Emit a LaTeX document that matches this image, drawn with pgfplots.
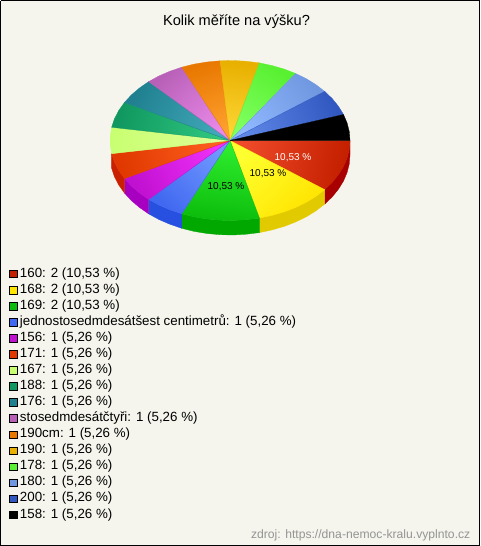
\documentclass[border=0pt]{standalone}
\usepackage{fontspec}
\setmainfont{Liberation Sans}
\usepackage{pgfplots}
\pgfplotsset{compat=1.18}
\definecolor{bgc}{HTML}{F5F5ED}
\definecolor{rA}{HTML}{C42000}\definecolor{rB}{HTML}{F04C2C}\definecolor{rW}{HTML}{A80000}
\definecolor{yA}{HTML}{FFE400}\definecolor{yB}{HTML}{FFFF30}\definecolor{yW}{HTML}{E2CA00}
\definecolor{gA}{HTML}{0CBC0C}\definecolor{gB}{HTML}{30F030}\definecolor{gW}{HTML}{00A800}
\definecolor{bA}{HTML}{4068F0}\definecolor{bB}{HTML}{7098FF}\definecolor{bW}{HTML}{2850E0}
\definecolor{mA}{HTML}{C010D0}\definecolor{mB}{HTML}{F030F8}\definecolor{mW}{HTML}{A800C0}
\definecolor{oA}{HTML}{E03800}\definecolor{oB}{HTML}{FF6020}\definecolor{oW}{HTML}{C82000}
\definecolor{lA}{HTML}{C8FF70}\definecolor{lB}{HTML}{E0FF98}
\definecolor{eA}{HTML}{109860}\definecolor{eB}{HTML}{30C880}
\definecolor{tA}{HTML}{208090}\definecolor{tB}{HTML}{40A8B8}
\definecolor{pA}{HTML}{B860B8}\definecolor{pB}{HTML}{E888E8}
\definecolor{nA}{HTML}{E87800}\definecolor{nB}{HTML}{FFA030}
\definecolor{dA}{HTML}{E8B000}\definecolor{dB}{HTML}{FFD838}
\definecolor{kA}{HTML}{58F030}\definecolor{kB}{HTML}{80FF60}
\definecolor{sA}{HTML}{7098E0}\definecolor{sB}{HTML}{90B8FF}
\definecolor{uA}{HTML}{3058C0}\definecolor{uB}{HTML}{6088E8}
\pgfplotsset{
  sw/.style={legend image code/.code={\pgfpathrectangle{\pgfpoint{0pt}{-3.8pt}}{\pgfpoint{11pt}{7.6pt}}\pgfusepath{use as bounding box}\draw[shade=false,black,line width=.8pt,fill=#1] (0.4pt,-3.8pt) rectangle (8pt,3.8pt);}},
  wedge/.style n args={3}{draw=#1,line width=.3pt,top color=#1,bottom color=#2,shading angle=#3,sw=#1},
  wall/.style={fill=#1,draw=#1,line width=.3pt,forget plot},
}
\begin{document}
\begin{tikzpicture}
\begin{axis}[
  scale only axis,width=480pt,height=546pt,
  xmin=0,xmax=480,ymin=0,ymax=546,y dir=reverse,
  hide axis,clip=false,
  legend cell align=left,
  legend style={at={(axis cs:9,266)},anchor=north west,draw=none,fill=none,
    inner sep=0pt,outer sep=0pt,row sep=0pt,
    nodes={inner sep=0pt,text height=11pt,text depth=5.07pt,font=\fontsize{13.33}{15}\selectfont},
    /tikz/every even column/.append style={column sep=0pt}},
]
% page
\addplot[fill=bgc,draw=black,line width=1pt,forget plot] coordinates {(0.5,0.5)(479.5,0.5)(479.5,545.5)(0.5,545.5)(0.5,0.5)};
% walls
\addplot[wall=rW] coordinates {(350.0,140.5)(349.3,149.3)(347.1,158.0)(343.5,166.5)(338.5,174.6)(332.2,182.4)(324.7,189.6)(324.7,204.1)(332.2,196.9)(338.5,189.1)(343.5,181.0)(347.1,172.5)(349.3,163.8)(350.0,155.0)(350.0,140.5)};
\addplot[wall=yW] coordinates {(324.7,189.6)(316.0,196.3)(306.3,202.3)(295.6,207.5)(284.2,211.9)(272.1,215.4)(259.5,218.1)(259.5,232.6)(272.1,229.9)(284.2,226.4)(295.6,222.0)(306.3,216.8)(316.0,210.8)(324.7,204.1)(324.7,189.6)};
\addplot[wall=gW] coordinates {(259.5,218.1)(246.5,219.7)(233.3,220.5)(220.1,220.2)(207.0,219.0)(194.2,216.9)(181.8,213.8)(181.8,228.3)(194.2,231.4)(207.0,233.5)(220.1,234.7)(233.3,235.0)(246.5,234.2)(259.5,232.6)(259.5,218.1)};
\addplot[wall=bW] coordinates {(181.8,213.8)(170.0,209.8)(158.9,205.0)(148.7,199.4)(148.7,213.9)(158.9,219.5)(170.0,224.3)(181.8,228.3)(181.8,213.8)};
\addplot[wall=mW] coordinates {(148.7,199.4)(139.5,193.0)(131.4,186.1)(124.5,178.6)(124.5,193.1)(131.4,200.6)(139.5,207.5)(148.7,213.9)(148.7,199.4)};
\addplot[wall=oW] coordinates {(124.5,178.6)(118.8,170.6)(114.5,162.3)(111.6,153.7)(111.6,168.2)(114.5,176.8)(118.8,185.1)(124.5,193.1)(124.5,178.6)};
% top surface
\addplot[wedge={rA}{rB}{-103}] coordinates {(230,140.5)(350.0,140.5)(349.3,149.3)(347.1,158.0)(343.5,166.5)(338.5,174.6)(332.2,182.4)(324.7,189.6)(230,140.5)};
\addlegendentry{160: 2 (10,53 \%)}
\addplot[wedge={yA}{yB}{-136}] coordinates {(230,140.5)(324.7,189.6)(316.0,196.3)(306.3,202.3)(295.6,207.5)(284.2,211.9)(272.1,215.4)(259.5,218.1)(230,140.5)};
\addlegendentry{168: 2 (10,53 \%)}
\addplot[wedge={gA}{gB}{-187}] coordinates {(230,140.5)(259.5,218.1)(246.5,219.7)(233.3,220.5)(220.1,220.2)(207.0,219.0)(194.2,216.9)(181.8,213.8)(230,140.5)};
\addlegendentry{169: 2 (10,53 \%)}
\addplot[wedge={bA}{bB}{-224}] coordinates {(230,140.5)(181.8,213.8)(170.0,209.8)(158.9,205.0)(148.7,199.4)(230,140.5)};
\addlegendentry{jednostosedmdesátšest centimetrů: 1 (5,26 \%)}
\addplot[wedge={mA}{mB}{-243}] coordinates {(230,140.5)(148.7,199.4)(139.5,193.0)(131.4,186.1)(124.5,178.6)(230,140.5)};
\addlegendentry{156: 1 (5,26 \%)}
\addplot[wedge={oA}{oB}{-257}] coordinates {(230,140.5)(124.5,178.6)(118.8,170.6)(114.5,162.3)(111.6,153.7)(230,140.5)};
\addlegendentry{171: 1 (5,26 \%)}
\addplot[wedge={lA}{lB}{90}] coordinates {(230,140.5)(111.6,153.7)(110.2,144.9)(110.2,136.1)(111.6,127.3)(230,140.5)};
\addlegendentry{167: 1 (5,26 \%)}
\addplot[wedge={eA}{eB}{77}] coordinates {(230,140.5)(111.6,127.3)(114.5,118.7)(118.8,110.4)(124.5,102.4)(230,140.5)};
\addlegendentry{188: 1 (5,26 \%)}
\addplot[wedge={tA}{tB}{63}] coordinates {(230,140.5)(124.5,102.4)(131.4,94.9)(139.5,88.0)(148.7,81.6)(230,140.5)};
\addlegendentry{176: 1 (5,26 \%)}
\addplot[wedge={pA}{pB}{44}] coordinates {(230,140.5)(148.7,81.6)(158.9,76.0)(170.0,71.2)(181.8,67.2)(230,140.5)};
\addlegendentry{stosedmdesátčtyři: 1 (5,26 \%)}
\addplot[wedge={nA}{nB}{20}] coordinates {(230,140.5)(181.8,67.2)(194.2,64.1)(207.0,62.0)(220.1,60.8)(230,140.5)};
\addlegendentry{190cm: 1 (5,26 \%)}
\addplot[wedge={dA}{dB}{-7}] coordinates {(230,140.5)(220.1,60.8)(233.3,60.5)(246.5,61.3)(259.5,62.9)(230,140.5)};
\addlegendentry{190: 1 (5,26 \%)}
\addplot[wedge={kA}{kB}{-34}] coordinates {(230,140.5)(259.5,62.9)(272.1,65.6)(284.2,69.1)(295.6,73.5)(230,140.5)};
\addlegendentry{178: 1 (5,26 \%)}
\addplot[wedge={sA}{sB}{-55}] coordinates {(230,140.5)(295.6,73.5)(306.3,78.7)(316.0,84.7)(324.7,91.4)(230,140.5)};
\addlegendentry{180: 1 (5,26 \%)}
\addplot[wedge={uA}{uB}{-70}] coordinates {(230,140.5)(324.7,91.4)(332.2,98.6)(338.5,106.4)(343.5,114.5)(230,140.5)};
\addlegendentry{200: 1 (5,26 \%)}
\addplot[fill=black,draw=black,line width=.3pt,sw=black] coordinates {(230,140.5)(343.5,114.5)(347.1,123.0)(349.3,131.7)(350.0,140.5)(230,140.5)};
\addlegendentry{158: 1 (5,26 \%)}
\node[font=\fontsize{14.6}{16}\selectfont,anchor=base] at (axis cs:236.5,25) {Kolik měříte na výšku?};
\node[font=\fontsize{10}{12}\selectfont,white,anchor=base] at (axis cs:293,160) {10,53 \%};
\node[font=\fontsize{10}{12}\selectfont,black,anchor=base] at (axis cs:268,176) {10,53 \%};
\node[font=\fontsize{10}{12}\selectfont,black,anchor=base] at (axis cs:226,189) {10,53 \%};
\node[font=\fontsize{12.15}{14}\selectfont,anchor=base east,inner sep=0pt,text=black!42] at (axis cs:470.5,538) {zdroj: https://dna-nemoc-kralu.vyplnto.cz};
\end{axis}
\end{tikzpicture}
\end{document}
